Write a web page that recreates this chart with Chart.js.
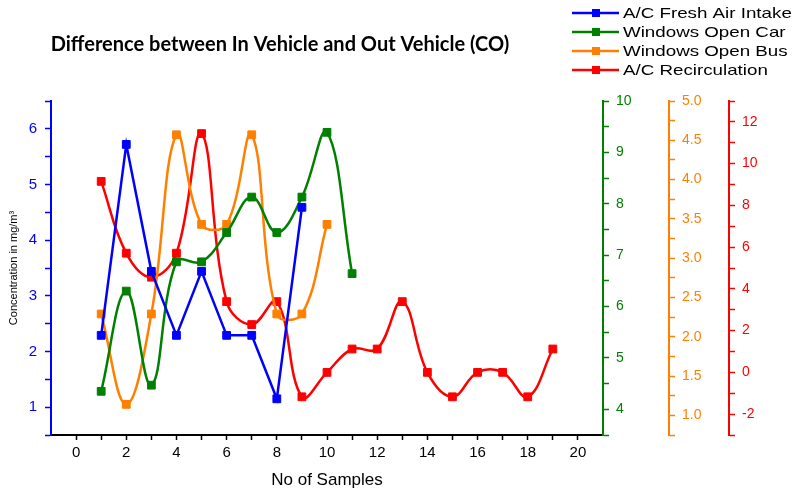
<!DOCTYPE html>
<html>
<head>
<meta charset="utf-8">
<title>Difference between In Vehicle and Out Vehicle (CO)</title>
<script src="https://cdn.jsdelivr.net/npm/chart.js@4.4.1/dist/chart.umd.min.js"></script>
<style>
    html, body { margin: 0; padding: 0; background: #fff; }
</style>
</head>
<body>
<canvas id="co_chart" width="800" height="491"></canvas>
<script>
// values
var samples = [1, 2, 3, 4, 5, 6, 7, 8, 9, 10, 11, 12, 13, 14, 15, 16, 17, 18, 19];
var freshAir = [2.29, 5.72, 3.44, 2.29, 3.44, 2.29, 2.29, 1.15, 4.59];
var openCar = [4.35, 6.30, 4.47, 6.87, 6.87, 7.44, 8.13, 7.44, 8.13, 9.39, 6.64];
var openBus = [2.29, 1.14, 2.29, 4.57, 3.43, 3.43, 4.57, 2.29, 2.29, 3.43];
var recirc = [9.15, 5.71, 4.56, 5.71, 11.44, 3.39, 2.29, 3.39, -1.17, 0, 1.12, 1.12, 3.39, 0, -1.17, 0, 0, -1.17, 1.12];

var seriesNames = ['A/C Fresh Air Intake', 'Windows Open Car', 'Windows Open Bus', 'A/C Recirculation'];
var chartTitle = 'Difference between In Vehicle and Out Vehicle (CO)';
var xLabels = [0, 2, 4, 6, 8, 10, 12, 14, 16, 18, 20];

var BLUE = '#0000FF', GREEN = '#008000', ORANGE = '#FF8000', RED = '#FF0000';

function toPoints(vals) {
    return vals.map(function (v, i) { return { x: samples[i], y: v }; });
}

function series(label, vals, color, axis, tension) {
    return {
        label: label,
        data: toPoints(vals),
        yAxisID: axis,
        borderColor: color,
        backgroundColor: color,
        borderWidth: 2.5,
        tension: tension,
        pointStyle: 'rect',
        pointRadius: 5.5,
        pointBorderWidth: 1,
        pointBorderColor: color,
        pointBackgroundColor: color,
        fill: false
    };
}

function sideAxis(color, min, max, step, width, fmt, pos) {
    return {
        type: 'linear',
        position: pos,
        min: min,
        max: max,
        afterFit: function (s) { s.width = width; },
        border: { color: color, width: 2 },
        grid: { drawOnChartArea: false, tickLength: 6, tickColor: color, tickWidth: 1.5 },
        ticks: {
            stepSize: step,
            autoSkip: false,
            color: color,
            padding: 7,
            font: { family: '"Liberation Sans", Arial', size: 14 },
            callback: fmt
        }
    };
}

var overlay = {
    id: 'overlay',
    afterDraw: function (chart) {
        var ctx = chart.ctx;
        ctx.save();
        ctx.fillStyle = '#000';
        ctx.font = 'bold 20px Lato';
        ctx.textAlign = 'center';
        ctx.textBaseline = 'middle';
        ctx.fillText(chartTitle, 280, 45);

        chart.data.datasets.forEach(function (ds, i) {
            var y = 13 + i * 19;
            ctx.strokeStyle = ds.borderColor;
            ctx.lineWidth = 2.5;
            ctx.beginPath();
            ctx.moveTo(572, y);
            ctx.lineTo(619, y);
            ctx.stroke();
            ctx.fillStyle = ds.borderColor;
            ctx.fillRect(592, y - 4, 8, 8);
            ctx.save();
            ctx.translate(623, y + 1);
            ctx.scale(1.25, 1);
            ctx.fillStyle = '#000';
            ctx.font = '15px "Liberation Sans"';
            ctx.textAlign = 'left';
            ctx.fillText(ds.label, 0, 0);
            ctx.restore();
        });
        ctx.restore();
    }
};

var ctx = document.getElementById('co_chart').getContext('2d');
var myChart = new Chart(ctx, {
    type: 'line',
    data: {
        datasets: [
            series(seriesNames[0], freshAir, BLUE, 'y', 0),
            series(seriesNames[1], openCar, GREEN, 'yCar', 0.4),
            series(seriesNames[2], openBus, ORANGE, 'yBus', 0.4),
            series(seriesNames[3], recirc, RED, 'yRec', 0.4)
        ]
    },
    options: {
        responsive: false,
        animation: false,
        layout: { padding: { top: 101, left: 0, right: 0, bottom: 0 } },
        plugins: {
            legend: { display: false },
            title: { display: false },
            tooltip: { enabled: false }
        },
        scales: {
            x: {
                type: 'linear',
                position: 'bottom',
                min: -1,
                max: 21,
                afterFit: function (s) { s.height = 56; },
                border: { color: '#000', width: 2 },
                grid: {
                    drawOnChartArea: false,
                    tickLength: 5,
                    tickWidth: 1.5,
                    tickColor: function (c) {
                        var v = c.tick && c.tick.value;
                        return (v < 0 || v > 20) ? 'rgba(0,0,0,0)' : '#000';
                    }
                },
                ticks: {
                    stepSize: 1,
                    autoSkip: false,
                    maxRotation: 0,
                    color: '#000',
                    padding: 4,
                    font: { family: '"Liberation Sans", Arial', size: 15 },
                    callback: function (v) { return xLabels.indexOf(v) >= 0 ? v : ''; }
                },
                title: {
                    display: true,
                    text: 'No of Samples',
                    color: '#000',
                    padding: { top: 0, bottom: 0 },
                    font: { family: '"Liberation Sans", Arial', size: 17 }
                }
            },
            y: {
                type: 'linear',
                position: 'left',
                min: 0.5,
                max: 6.5,
                afterFit: function (s) { s.width = 51; },
                border: { color: BLUE, width: 2 },
                grid: { drawOnChartArea: false, tickLength: 6, tickColor: BLUE, tickWidth: 1.5 },
                ticks: {
                    stepSize: 0.5,
                    autoSkip: false,
                    color: BLUE,
                    padding: 8,
                    font: { family: '"Liberation Sans", Arial', size: 15 },
                    callback: function (v) { return Number.isInteger(v) ? v : ''; }
                },
                title: {
                    display: true,
                    text: 'Concentration in mg/m³',
                    color: '#000',
                    padding: { top: 7, bottom: 0 },
                    font: { family: '"Liberation Sans", Arial', size: 11 }
                }
            },
            yCar: sideAxis(GREEN, 3.5, 10, 0.5, 66, function (v) {
                return Number.isInteger(v) ? v : '';
            }, 'right'),
            yBus: sideAxis(ORANGE, 0.75, 5.0, 0.25, 60, function (v) {
                return Math.abs(v * 2 - Math.round(v * 2)) < 1e-6 ? v.toFixed(1) : '';
            }, 'right'),
            yRec: sideAxis(RED, -3, 13, 1, 71, function (v) {
                return v % 2 === 0 ? v : '';
            }, 'right')
        }
    },
    plugins: [overlay]
});
</script>
</body>
</html>
